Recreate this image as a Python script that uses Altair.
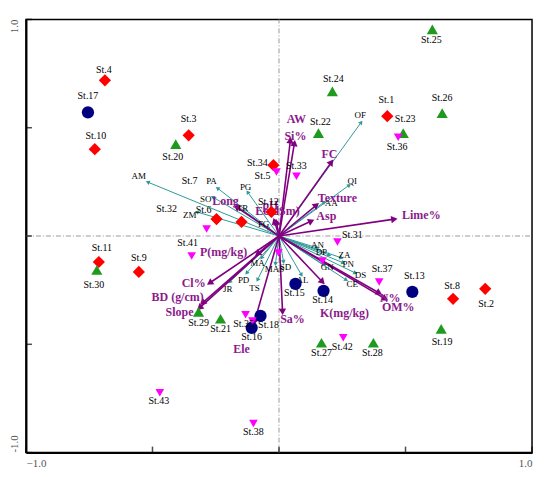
import numpy as np
import pandas as pd
import altair as alt

# ---------------- layout constants ----------------
W, H = 507, 434
PX, PY = W / 2.0, H / 2.0          # pixels per data unit
FONT = "Liberation Serif"

# ---------------- data ----------------
axis_label_values = [-1.0, 1.0]
axis_tick_values = [-1.0, -0.5, 0.0, 0.5, 1.0]

station_names = ["St.1", "St.2", "St.3", "St.4", "St.6", "St.7", "St.8", "St.9", "St.10", "St.11", "St.12", "St.34",
                 "St.13", "St.14", "St.15", "St.16", "St.17", "St.18",
                 "St.19", "St.20", "St.21", "St.22", "St.23", "St.24", "St.25", "St.26", "St.27", "St.28", "St.29", "St.30",
                 "St.5", "St.31", "St.32", "St.33", "St.35", "St.36", "St.37", "St.38", "St.39", "St.40", "St.41", "St.42", "St.43", "St.44"]
station_x = [0.428, 0.815, -0.357, -0.688, -0.247, -0.148, 0.688, -0.554, -0.728, -0.712, -0.030, -0.022,
             0.527, 0.176, 0.065, -0.108, -0.755, -0.073,
             0.641, -0.408, -0.231, 0.156, 0.491, 0.211, 0.606, 0.645, 0.168, 0.373, -0.318, -0.720,
             -0.010, 0.231, -0.286, 0.069, -0.132, 0.471, 0.396, -0.101, -0.002, 0.172, -0.345, 0.254, -0.471, -0.105]
station_y = [0.553, -0.244, 0.465, 0.719, 0.078, 0.065, -0.290, -0.166, 0.401, -0.120, 0.111, 0.327,
             -0.258, -0.253, -0.221, -0.424, 0.571, -0.369,
             -0.429, 0.424, -0.382, 0.475, 0.475, 0.668, 0.954, 0.567, -0.493, -0.493, -0.350, -0.157,
             0.295, -0.028, 0.032, 0.276, -0.364, 0.456, -0.212, -0.866, -0.078, -0.115, -0.092, -0.470, -0.724, -0.392]
station_group = ["A"] * 12 + ["B"] * 6 + ["C"] * 12 + ["D"] * 14

env_names = ["AW", "Si%", "FC", "Texture", "Asp", "Lime%", "N%", "OM%", "K(mg/kg)", "Sa%", "Ele",
             "Slope", "BD (g/cm)", "Cl%", "P(mg/kg)", "Long", "pH", "Ec(dSm)"]
env_x = [0.045, 0.061, 0.207, 0.148, 0.128, 0.456, 0.396, 0.420, 0.172, 0.014, -0.097,
         -0.314, -0.302, -0.274, -0.085, -0.168, -0.018, -0.010]
env_y = [0.442, 0.429, 0.341, 0.143, 0.069, 0.078, -0.263, -0.290, -0.212, -0.350, -0.396,
         -0.332, -0.309, -0.217, -0.083, 0.134, 0.069, 0.065]

sp_names = ["AM", "PA", "SO", "ZM", "PG", "TR", "FG", "OF", "QI", "AA", "AN", "DP", "ZA", "PN", "DS", "CE",
            "GN", "AL", "SD", "MAS", "MA", "PD", "JR", "TS"]
sp_x = [-0.519, -0.243, -0.262, -0.325, -0.124, -0.164, -0.045, 0.325, 0.278, 0.179, 0.152, 0.199, 0.247, 0.254,
        0.302, 0.266, 0.179, 0.089, 0.018, -0.014, -0.069, -0.128, -0.195, -0.085]
sp_y = [0.249, 0.221, 0.180, 0.111, 0.203, 0.138, 0.037, 0.525, 0.235, 0.157, -0.055, -0.088, -0.101, -0.124,
        -0.171, -0.203, -0.134, -0.180, -0.120, -0.129, -0.101, -0.171, -0.212, -0.203]

# ---------------- label nudges (pixels, layout only) ----------------
station_nudge = {
    "St.1": (-1, -16), "St.2": (1, 15), "St.3": (0, -16), "St.4": (-1, -10), "St.5": (-14, 4), "St.6": (-13, -9),
    "St.7": (-52, -41), "St.8": (-1, -13), "St.9": (0, -14), "St.10": (1, -13), "St.11": (3, -14), "St.12": (-3, -10),
    "St.13": (2, -16), "St.14": (-1, 9), "St.15": (-1, 9), "St.16": (0, 9), "St.17": (0, -16), "St.18": (8, 9),
    "St.19": (1, 13), "St.20": (-3, 13), "St.21": (0, 10), "St.22": (2, -11), "St.23": (2, -14), "St.24": (1, -12),
    "St.25": (-1, 11), "St.26": (0, -15), "St.27": (0, 10), "St.28": (-1, 10), "St.29": (0, 11), "St.30": (-3, 15),
    "St.31": (15, -7), "St.32": (-40, -20), "St.33": (0, -10), "St.34": (-16, -2), "St.35": (-2, 9), "St.36": (-1, 10),
    "St.37": (3, -13), "St.38": (0, 8), "St.41": (-4, -13), "St.42": (-1, 9), "St.43": (-1, 8),
}
env_nudge = {
    "AW": (6, -21), "Si%": (1, -7), "FC": (-2, -8), "Texture": (21, -7), "Asp": (15, -5), "Lime%": (27, -4),
    "N%": (11, 5), "OM%": (13, 8), "K(mg/kg)": (22, 31), "Sa%": (10, 7), "Ele": (-13, 27), "Slope": (-20, 4),
    "BD (g/cm)": (-25, -6), "Cl%": (-16, 0), "P(mg/kg)": (-34, -2), "Long": (-11, -6), "pH": (-4, -16),
    "Ec(dSm)": (1, -11),
}
sp_nudge = {
    "AM": (-9, -6), "PA": (-6, -7), "SO": (-7, 2), "ZM": (-7, 3), "PG": (-2, -5), "TR": (5, 2), "FG": (-4, -4),
    "OF": (-1, -7), "QI": (3, -4), "AA": (7, 1), "AN": (0, -3), "DP": (-8, -3), "ZA": (3, -3), "PN": (5, 1),
    "DS": (5, 2), "CE": (6, 4), "GN": (3, 2), "AL": (1, 5), "SD": (2, 5), "MAS": (-1, 5), "MA": (-4, 5),
    "PD": (-3, 7), "JR": (-2, 7), "TS": (-3, 8),
}

# ---------------- frames ----------------
st = pd.DataFrame({"name": station_names, "x": station_x, "y": station_y, "g": station_group})
st_lab = st[st["name"].isin(station_nudge.keys())].copy()
st_lab["lx"] = st_lab["x"] + st_lab["name"].map(lambda n: station_nudge[n][0]) / PX
st_lab["ly"] = st_lab["y"] - st_lab["name"].map(lambda n: station_nudge[n][1]) / PY

def arrows(names, xs, ys, nudge):
    d = pd.DataFrame({"name": names, "x": xs, "y": ys})
    d["ang"] = (np.degrees(np.arctan2(d["x"] * PX, d["y"] * PY)) + 360.0) % 360.0
    d["lx"] = d["x"] + d["name"].map(lambda n: nudge[n][0]) / PX
    d["ly"] = d["y"] - d["name"].map(lambda n: nudge[n][1]) / PY
    return d

env = arrows(env_names, env_x, env_y, env_nudge)
sp = arrows(sp_names, sp_x, sp_y, sp_nudge)

xs = alt.Scale(domain=[-1, 1], nice=False, zero=False)
ys = alt.Scale(domain=[-1, 1], nice=False, zero=False)
X = lambda f: alt.X(f, type="quantitative", scale=xs, title=None,
                    axis=alt.Axis(values=axis_label_values, format=".1f", labelFlush=True, ticks=False, grid=False,
                                  domainColor="black", domainWidth=2, labelFont=FONT, labelFontSize=11,
                                  labelColor="#555555", labelPadding=5))
Y = lambda f: alt.Y(f, type="quantitative", scale=ys, title=None,
                    axis=alt.Axis(labels=False, ticks=False, grid=False, domainColor="black", domainWidth=2))

TEAL = "#2E9A9A"
PURPLE = "#800080"

# zero lines
zero_df = pd.DataFrame({"v": [0.0]})
zx = alt.Chart(zero_df).mark_rule(color="#9A9A9A", strokeWidth=1, strokeDash=[5, 2, 1, 2]).encode(
    x=X("v"), y=alt.datum(-1), y2=alt.datum(1))
zy = alt.Chart(zero_df).mark_rule(color="#9A9A9A", strokeWidth=1, strokeDash=[5, 2, 1, 2]).encode(
    y=Y("v"), x=alt.datum(-1), x2=alt.datum(1))

# inward ticks
tick_df = pd.DataFrame({"v": axis_tick_values})
tx = alt.Chart(tick_df).mark_tick(orient="vertical", size=6, thickness=1.5, color="black", yOffset=-3).encode(
    x=X("v"), y=alt.datum(-1))
ty = alt.Chart(tick_df).mark_tick(orient="horizontal", size=6, thickness=1.5, color="black", xOffset=3).encode(
    y=Y("v"), x=alt.datum(-1))

# y axis labels (rotated)
ylab_df = pd.DataFrame({"v": axis_label_values, "t": ["-1.0", "1.0"]})
ylab_lo = alt.Chart(ylab_df[ylab_df.v < 0]).mark_text(angle=270, align="left", baseline="middle", dy=-11,
                                                      font=FONT, fontSize=11, color="#555555").encode(
    x=alt.datum(-1), y=Y("v"), text="t:N")
ylab_hi = alt.Chart(ylab_df[ylab_df.v > 0]).mark_text(angle=270, align="right", baseline="middle", dy=-11,
                                                      font=FONT, fontSize=11, color="#555555").encode(
    x=alt.datum(-1), y=Y("v"), text="t:N")

# species arrows
sp_line = alt.Chart(sp).mark_rule(color=TEAL, strokeWidth=1).encode(
    x=X("x"), y=Y("y"), x2=alt.datum(0), y2=alt.datum(0))
sp_head = alt.Chart(sp).mark_point(shape="triangle-up", filled=True, size=22, color=TEAL, opacity=1).encode(
    x=X("x"), y=Y("y"), angle=alt.Angle("ang:Q", scale=None))
sp_text = alt.Chart(sp).mark_text(font=FONT, fontSize=9, color="black", baseline="middle").encode(
    x=X("lx"), y=Y("ly"), text="name:N")

# environmental arrows
env_line = alt.Chart(env).mark_rule(color=PURPLE, strokeWidth=1.6).encode(
    x=X("x"), y=Y("y"), x2=alt.datum(0), y2=alt.datum(0))
env_head = alt.Chart(env).mark_point(shape="triangle-up", filled=True, size=55, color=PURPLE, opacity=1).encode(
    x=X("x"), y=Y("y"), angle=alt.Angle("ang:Q", scale=None))
env_text = alt.Chart(env).mark_text(font=FONT, fontSize=12, fontWeight="bold", color="#8B1A8B",
                                    baseline="middle").encode(
    x=X("lx"), y=Y("ly"), text="name:N")

# station markers
def markers(g, shape, color, size):
    return alt.Chart(st[st.g == g]).mark_point(shape=shape, filled=True, color=color, size=size, opacity=1).encode(
        x=X("x"), y=Y("y"))

mA = markers("A", "diamond", "#FF0000", 150)
mB = markers("B", "circle", "#000080", 150)
mC = markers("C", "triangle-up", "#1E9B1E", 125)
mD = markers("D", "triangle-down", "#FF00FF", 75)

st_text = alt.Chart(st_lab).mark_text(font=FONT, fontSize=10, color="black", baseline="middle").encode(
    x=X("lx"), y=Y("ly"), text="name:N")

chart = alt.layer(
    zx, zy, sp_line, sp_head, env_line, env_head, sp_text, env_text, mA, mB, mC, mD, st_text,
    tx, ty, ylab_lo, ylab_hi
).properties(
    width=W, height=H,
    autosize=alt.AutoSizeParams(type="none"),
    padding={"left": 18, "top": 11, "right": 10, "bottom": 20},
    background="white",
).configure_view(stroke="black", strokeWidth=1.5)

chart.save("out.html", embed_options={"renderer": "svg", "actions": False})
